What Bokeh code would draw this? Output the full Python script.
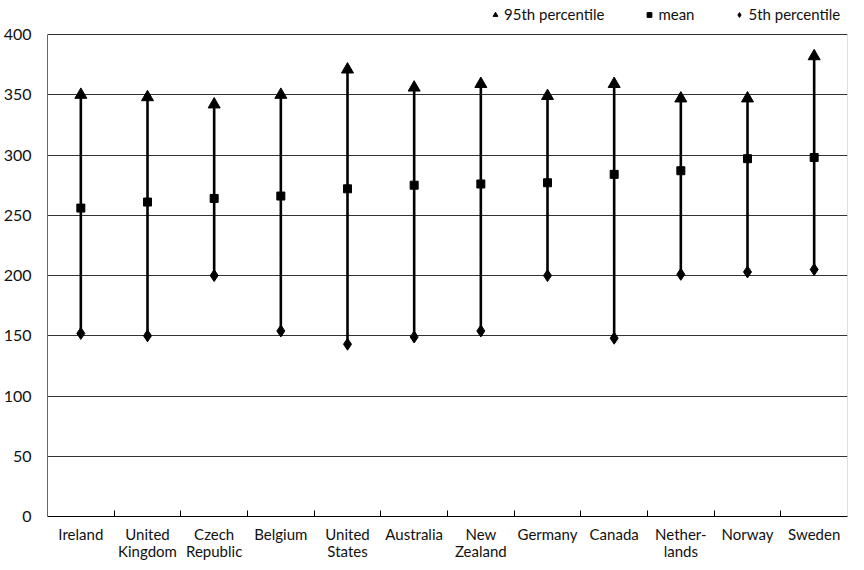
from bokeh.plotting import figure
from bokeh.models import Range1d, FixedTicker, Legend, LegendItem, BoxAnnotation
from bokeh.embed import file_html
from bokeh.resources import INLINE

countries = ["Ireland", "United Kingdom", "Czech Republic", "Belgium", "United States",
             "Australia", "New Zealand", "Germany", "Canada", "Netherlands", "Norway", "Sweden"]
tick_labels = ["Ireland", "United\nKingdom", "Czech\nRepublic", "Belgium", "United\nStates",
               "Australia", "New\nZealand", "Germany", "Canada", "Nether-\nlands", "Norway", "Sweden"]
p95 = [350, 348, 342, 350, 371, 356, 359, 349, 359, 347, 347, 382]
mean = [256, 261, 264, 266, 272, 275, 276, 277, 284, 287, 297, 298]
p5 = [152, 150, 200, 154, 143, 149, 154, 200, 148, 201, 203, 205]
y_ticks = [0, 50, 100, 150, 200, 250, 300, 350, 400]

FONT = "Lato"
x = list(range(len(countries)))
Y_MAX = 400
Y_TOP = 428.3  # headroom above the 400 line for the legend
X_LO, X_HI = -0.5, len(countries) - 0.5

p = figure(width=848, height=562, output_backend="svg", toolbar_location=None,
           x_range=Range1d(X_LO, X_HI), y_range=Range1d(0, Y_TOP),
           min_border_left=39, min_border_right=1, min_border_top=0, min_border_bottom=45)
p.background_fill_color = "white"
p.border_fill_color = "white"
p.outline_line_color = None

# right border of the plot area (0..400 only)
p.add_layout(BoxAnnotation(left=X_HI, right=X_HI, bottom=0, top=Y_MAX,
                           fill_alpha=0, line_color="#8c8c8c", line_width=1))

p.segment(x0=x, y0=p5, x1=x, y1=p95, line_color="black", line_width=2.6)
r95 = p.scatter(x, p95, marker="triangle", size=12, color="black")
rmean = p.scatter(x, mean, marker="square", size=8, color="black")
r5 = p.scatter(x, p5, marker="diamond", size=12, color="black")

# x axis: labels at category centres, small inward ticks at category boundaries
xa = p.xaxis[0]
xa.ticker = FixedTicker(ticks=x, minor_ticks=[i + 0.5 for i in x[:-1]])
xa.major_label_overrides = {i: lab for i, lab in zip(x, tick_labels)}
xa.major_tick_line_color = None
xa.minor_tick_in = 6
xa.minor_tick_out = 0
xa.minor_tick_line_color = "black"
xa.axis_line_color = "black"
xa.axis_line_width = 1
xa.major_label_standoff = 2
xa.major_label_text_font = FONT
xa.major_label_text_font_size = "15px"
xa.major_label_text_color = "#111111"
xa.major_label_text_line_height = 0.95

ya = p.yaxis[0]
ya.ticker = FixedTicker(ticks=y_ticks)
ya.bounds = (0, Y_MAX)
ya.major_tick_line_color = None
ya.minor_tick_line_color = None
ya.axis_line_color = "#666666"
ya.major_label_standoff = 10
ya.major_label_text_font = FONT
ya.major_label_text_font_size = "16px"
ya.major_label_text_color = "#111111"

p.xgrid.grid_line_color = None
p.ygrid.ticker = FixedTicker(ticks=y_ticks)
p.ygrid.grid_line_color = "#333333"
p.ygrid.grid_line_width = 1

legend = Legend(items=[LegendItem(label="95th percentile", renderers=[r95]),
                       LegendItem(label="mean", renderers=[rmean]),
                       LegendItem(label="5th percentile", renderers=[r5])],
                location=(442, 493), orientation="horizontal",
                padding=0, margin=0, spacing=39, glyph_width=12, glyph_height=15,
                label_standoff=3, label_height=15,
                label_text_font=FONT, label_text_font_size="15px",
                label_text_color="#111111",
                border_line_color=None, background_fill_alpha=0)
p.add_layout(legend, "center")

open("out.html", "w").write(file_html(p, INLINE))
